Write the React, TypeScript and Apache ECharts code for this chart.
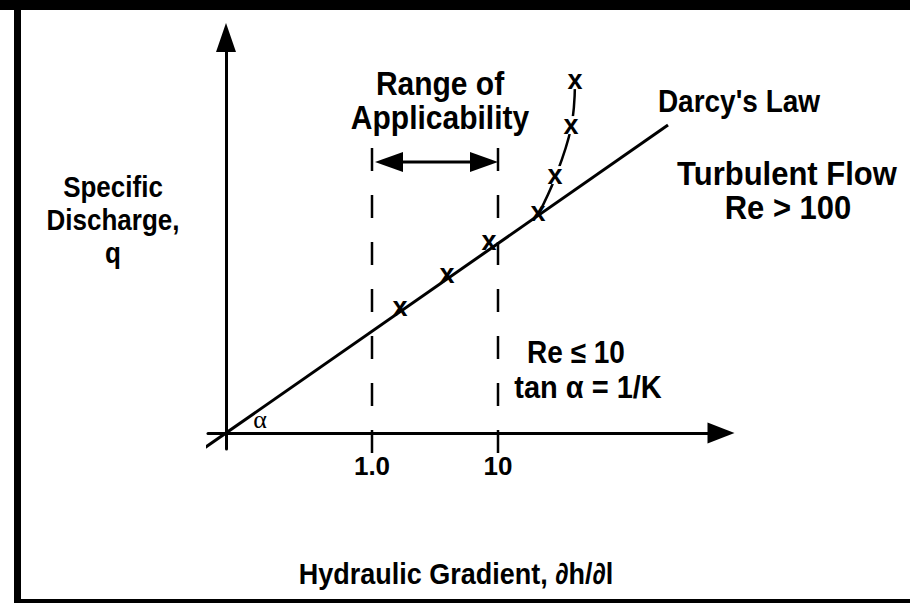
import React, { useEffect, useRef } from "react";
import * as echarts from "echarts";

// Sketch units: x = hydraulic gradient (schematic), y = specific discharge (schematic)
const darcyLine: number[][] = [[-4.6, -4], [88.4, 77]];
const laminarPoints: number[][] = [[34.8, 30.75], [44.2, 39], [52.6, 47.25], [62.4, 54.5]];
const turbulentPoints: number[][] = [[62.4, 54.5], [65.8, 63.75], [69, 76.25], [69.8, 87.5]];
const rangeLimits: number[] = [29.2, 54.4];
const rangeLabels: string[] = ["1.0", "10"];
const rangeDashExtent: number[] = [71.25, -6];
const bracketY = 67.75;
const bracketEnds: number[] = [32.6, 51.6];

const FONT = "'Liberation Sans', Arial, Helvetica, sans-serif";

export default function App() {
  const ref = useRef<HTMLDivElement>(null);
  useEffect(() => {
    if (!ref.current) return;
    const chart = echarts.init(ref.current, undefined, { renderer: "svg" });
    const black = "#000";
    const txt = (text: string, x: number, y: number, size: number, extra: any = {}, sy = 1.1) => ({
      type: "text",
      x,
      y,
      scaleY: sy,
      style: {
        text,
        fill: black,
        fontFamily: FONT,
        fontWeight: "bold",
        fontSize: size,
        align: "center",
        verticalAlign: "middle",
        ...extra,
      },
    });
    const markLabel = {
      show: true,
      position: "inside",
      formatter: "x",
      color: black,
      fontFamily: FONT,
      fontWeight: "bold",
      fontSize: 27,
      offset: [0, -3],
    };
    const option: any = {
      animation: false,
      backgroundColor: "#fff",
      grid: { left: 208, right: 189, top: 37.5, bottom: 154, containLabel: false },
      xAxis: {
        type: "value",
        min: -3.6,
        max: 99,
        splitLine: { show: false },
        axisTick: { show: false },
        axisLine: {
          show: true,
          onZero: true,
          symbol: ["none", "triangle"],
          symbolSize: [21, 27],
          lineStyle: { color: black, width: 3 },
        },
        axisLabel: {
          show: true,
          customValues: rangeLimits,
          formatter: (v: number) => {
            const i = rangeLimits.findIndex((r) => Math.abs(r - v) < 1e-6);
            return i >= 0 ? rangeLabels[i] : "";
          },
          color: black,
          fontFamily: FONT,
          fontWeight: "bold",
          fontSize: 26,
          margin: 4,
        },
      },
      yAxis: {
        type: "value",
        min: -4,
        max: 98.9,
        splitLine: { show: false },
        axisTick: { show: false },
        axisLabel: { show: false },
        axisLine: {
          show: true,
          onZero: true,
          symbol: ["none", "triangle"],
          symbolSize: [20, 29],
          lineStyle: { color: black, width: 3 },
        },
      },
      graphic: [
        { type: "rect", shape: { x: 0, y: 0, width: 910, height: 10 }, style: { fill: black } },
        { type: "rect", shape: { x: 14, y: 0, width: 7, height: 603 }, style: { fill: black } },
        { type: "rect", shape: { x: 14, y: 599, width: 896, height: 4 }, style: { fill: black } },
        txt("Range of", 440, 83, 30),
        txt("Applicability", 440, 117, 30),
        txt("Darcy's Law", 739, 101, 28),
        txt("Turbulent Flow", 787, 173, 31),
        txt("Re > 100", 788, 207, 31),
        txt("Specific\nDischarge,\nq", 113, 220, 26, { lineHeight: 30 }),
        txt("Re ≤ 10", 576, 352, 28),
        txt("tan α = 1/K", 588, 386, 29),
        txt("α", 260, 419, 26, { fontWeight: "normal", fontFamily: "'Liberation Serif', serif" }, 1),
        txt("Hydraulic Gradient, ∂h/∂l", 456, 574, 27),
      ],
      series: [
        {
          type: "line",
          data: darcyLine,
          symbol: "none",
          clip: false,
          lineStyle: { color: black, width: 3 },
          z: 3,
        },
        ...rangeLimits.map((x) => ({
          type: "line",
          data: rangeDashExtent.map((y) => [x, y]),
          symbol: "none",
          clip: false,
          lineStyle: { color: black, width: 2.5, type: [23, 24] },
          z: 2,
        })),
        {
          type: "line",
          data: [
            { value: [bracketEnds[0], bracketY], symbolRotate: 90 },
            { value: [bracketEnds[1], bracketY], symbolRotate: -90 },
          ],
          symbol: "triangle",
          symbolSize: [20, 28],
          showSymbol: true,
          clip: false,
          itemStyle: { color: black, opacity: 1 },
          lineStyle: { color: black, width: 3 },
          z: 3,
        },
        {
          type: "line",
          data: turbulentPoints,
          smooth: 0.4,
          symbol: "none",
          clip: false,
          lineStyle: { color: black, width: 2.5 },
          z: 3,
        },
        {
          type: "scatter",
          data: laminarPoints,
          symbolSize: 1,
          itemStyle: { color: "rgba(255,255,255,0)", opacity: 1 },
          label: markLabel,
          z: 5,
        },
        {
          type: "scatter",
          data: turbulentPoints.slice(1),
          symbolSize: 1,
          itemStyle: { color: "rgba(255,255,255,0)", opacity: 1 },
          label: { ...markLabel, backgroundColor: "#fff", lineHeight: 18, padding: [0, 2] },
          z: 5,
        },
      ],
    };
    chart.setOption(option);
    return () => chart.dispose();
  }, []);
  return (
    <div
      ref={ref}
      style={{ position: "fixed", left: 0, top: 0, width: 910, height: 603, background: "#fff" }}
    />
  );
}
